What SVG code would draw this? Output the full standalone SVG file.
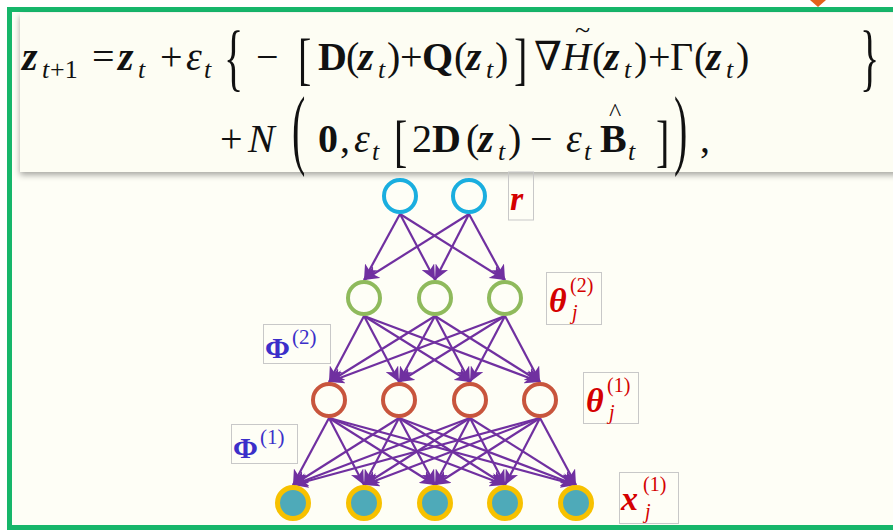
<svg xmlns="http://www.w3.org/2000/svg" width="893" height="530" viewBox="0 0 893 530">
<defs>
<filter id="sh" x="-5%" y="-10%" width="110%" height="125%"><feDropShadow dx="0" dy="3" stdDeviation="3" flood-color="#000" flood-opacity="0.35"/></filter>
<marker id="ah" markerUnits="userSpaceOnUse" markerWidth="16" markerHeight="14" refX="15" refY="7" orient="auto"><path d="M0,0 L15,7 L0,14 L4,7 z" fill="#7030a0"/></marker>
<style>
.m{font-family:"Liberation Serif","DejaVu Serif",serif;fill:#111}
.bi{font-weight:bold;font-style:italic}
.b{font-weight:bold}
.i{font-style:italic}
.s{font-size:26px}
.d{font-size:40px;font-weight:normal}
.e line{stroke:#7030a0;stroke-width:2.2;marker-end:url(#ah)}
.lb{fill:none;stroke:#c8c8c8;stroke-width:1}
.red{font-family:"Liberation Serif",serif;fill:#d40000}
.blu{font-family:"Liberation Serif",serif;fill:#3b2fc9}
</style>
</defs>
<rect width="893" height="530" fill="#ffffff"/>
<rect x="9.5" y="9.5" width="900" height="518" fill="#fefef6" stroke="#16b66a" stroke-width="5"/>
<path d="M810,0 L826,0 L818,7 z" fill="#e5611b"/>
<g id="formula">
<rect x="20" y="13" width="880" height="159" fill="#fdfdf3" filter="url(#sh)"/>
<g class="m" font-size="40">
<text x="22" y="70" class="bi">z</text><text x="42" y="78" class="i s">t</text><text x="50" y="78" class="s">+1</text>
<text x="92" y="70">=</text>
<text x="118" y="70" class="bi">z</text><text x="138" y="78" class="i s">t</text>
<text x="160" y="70">+</text>
<text x="186" y="70" class="i">ε</text><text x="204" y="78" class="i s">t</text>
<text class="d" transform="translate(224,82) scale(1,1.85)">{</text>
<text x="256" y="70">−</text>
<text class="d" transform="translate(298,78) scale(1,1.45)">[</text>
<text x="318" y="70" class="b">D</text>
<text x="346" y="70">(</text><text x="358" y="70" class="bi">z</text><text x="378" y="78" class="i s">t</text><text x="387" y="70">)</text>
<text x="400" y="70">+</text>
<text x="422" y="70" class="b">Q</text>
<text x="454" y="70">(</text><text x="466" y="70" class="bi">z</text><text x="486" y="78" class="i s">t</text><text x="495" y="70">)</text>
<text class="d" transform="translate(514,78) scale(1,1.45)">]</text>
<text x="534" y="70">∇</text>
<text x="562" y="70" class="i">H</text><text x="575" y="39" font-size="28">~</text>
<text x="592" y="70">(</text><text x="604" y="70" class="bi">z</text><text x="624" y="78" class="i s">t</text><text x="634" y="70">)</text>
<text x="648" y="70">+</text>
<text x="670" y="70">Γ</text>
<text x="694" y="70">(</text><text x="706" y="70" class="bi">z</text><text x="726" y="78" class="i s">t</text><text x="736" y="70">)</text>
<text class="d" transform="translate(860,82) scale(1,1.85)">}</text>
<text x="220" y="152">+</text>
<text x="248" y="152" class="i">N</text>
<text class="d" transform="translate(292,158) scale(1,2.2)">(</text>
<text x="318" y="152" class="b">0</text><text x="340" y="152">,</text>
<text x="354" y="152" class="i">ε</text><text x="372" y="160" class="i s">t</text>
<text class="d" transform="translate(394,160) scale(1,1.45)">[</text>
<text x="412" y="152">2</text><text x="432" y="152" class="b">D</text>
<text x="466" y="152">(</text><text x="478" y="152" class="bi">z</text><text x="498" y="160" class="i s">t</text><text x="508" y="152">)</text>
<text x="530" y="152">−</text>
<text x="566" y="152" class="i">ε</text><text x="584" y="160" class="i s">t</text>
<text x="600" y="152" class="b">B</text><text x="609" y="121" font-size="26">^</text><text x="628" y="160" class="i s">t</text>
<text class="d" transform="translate(656,160) scale(1,1.45)">]</text>
<text class="d" transform="translate(674,158) scale(1,2.2)">)</text>
<text x="700" y="152">,</text>
</g>
</g>
<g id="connectors" class="e">
<line x1="400" y1="214" x2="364" y2="280"/><line x1="400" y1="214" x2="435" y2="280"/><line x1="400" y1="214" x2="505" y2="280"/>
<line x1="469" y1="214" x2="364" y2="280"/><line x1="469" y1="214" x2="435" y2="280"/><line x1="469" y1="214" x2="505" y2="280"/>
<line x1="364" y1="316" x2="329" y2="382"/><line x1="364" y1="316" x2="399" y2="382"/><line x1="364" y1="316" x2="470" y2="382"/><line x1="364" y1="316" x2="540" y2="382"/>
<line x1="435" y1="316" x2="329" y2="382"/><line x1="435" y1="316" x2="399" y2="382"/><line x1="435" y1="316" x2="470" y2="382"/><line x1="435" y1="316" x2="540" y2="382"/>
<line x1="505" y1="316" x2="329" y2="382"/><line x1="505" y1="316" x2="399" y2="382"/><line x1="505" y1="316" x2="470" y2="382"/><line x1="505" y1="316" x2="540" y2="382"/>
<line x1="329" y1="418" x2="293" y2="485"/><line x1="329" y1="418" x2="364" y2="485"/><line x1="329" y1="418" x2="435" y2="485"/><line x1="329" y1="418" x2="505" y2="485"/><line x1="329" y1="418" x2="576" y2="485"/>
<line x1="399" y1="418" x2="293" y2="485"/><line x1="399" y1="418" x2="364" y2="485"/><line x1="399" y1="418" x2="435" y2="485"/><line x1="399" y1="418" x2="505" y2="485"/><line x1="399" y1="418" x2="576" y2="485"/>
<line x1="470" y1="418" x2="293" y2="485"/><line x1="470" y1="418" x2="364" y2="485"/><line x1="470" y1="418" x2="435" y2="485"/><line x1="470" y1="418" x2="505" y2="485"/><line x1="470" y1="418" x2="576" y2="485"/>
<line x1="540" y1="418" x2="293" y2="485"/><line x1="540" y1="418" x2="364" y2="485"/><line x1="540" y1="418" x2="435" y2="485"/><line x1="540" y1="418" x2="505" y2="485"/><line x1="540" y1="418" x2="576" y2="485"/>
</g>
<g id="r-nodes" fill="none" stroke="#1aaedf" stroke-width="4">
<circle id="r1" cx="400" cy="196" r="16"/><circle id="r2" cx="469" cy="196" r="16"/>
</g>
<g id="theta2-nodes" fill="none" stroke="#8fba5c" stroke-width="4">
<circle id="t2a" cx="364" cy="298" r="16"/><circle id="t2b" cx="435" cy="298" r="16"/><circle id="t2c" cx="505" cy="298" r="16"/>
</g>
<g id="theta1-nodes" fill="none" stroke="#c8553d" stroke-width="4">
<circle id="t1a" cx="329" cy="400" r="16"/><circle id="t1b" cx="399" cy="400" r="16"/><circle id="t1c" cx="470" cy="400" r="16"/><circle id="t1d" cx="540" cy="400" r="16"/>
</g>
<g id="x-nodes" fill="#4eaab9" stroke="#f7c100" stroke-width="5">
<circle id="xa" cx="293" cy="503" r="15.5"/><circle id="xb" cx="364" cy="503" r="15.5"/><circle id="xc" cx="435" cy="503" r="15.5"/><circle id="xd" cx="505" cy="503" r="15.5"/><circle id="xe" cx="576" cy="503" r="15.5"/>
</g>
<g id="label-r"><rect class="lb" x="508.5" y="172" width="25" height="48"/><text class="red" x="510" y="210" font-size="34" font-weight="bold" font-style="italic">r</text></g>
<g id="label-theta2"><rect class="lb" x="546.5" y="272.5" width="55" height="52"/><text class="red" x="549" y="312" font-size="34" font-weight="bold" font-style="italic">θ</text><text class="red" x="570" y="292" font-size="20">(2)</text><text class="red" x="572" y="319" font-size="20" font-style="italic">j</text></g>
<g id="label-theta1"><rect class="lb" x="583.5" y="372.5" width="55" height="51"/><text class="red" x="586" y="412" font-size="34" font-weight="bold" font-style="italic">θ</text><text class="red" x="607" y="392" font-size="20">(1)</text><text class="red" x="609" y="419" font-size="20" font-style="italic">j</text></g>
<g id="label-x"><rect class="lb" x="619.5" y="472.5" width="59" height="51"/><text class="red" x="621" y="510" font-size="34" font-weight="bold" font-style="italic">x</text><text class="red" x="643" y="491" font-size="20">(1)</text><text class="red" x="645" y="518" font-size="20" font-style="italic">j</text></g>
<g id="label-phi2"><rect class="lb" x="263.5" y="324.5" width="67" height="39"/><text class="blu" x="265" y="358" font-size="30" font-weight="bold">Φ</text><text class="blu" x="292" y="344" font-size="21">(2)</text></g>
<g id="label-phi1"><rect class="lb" x="231.5" y="424.5" width="66" height="39"/><text class="blu" x="233" y="458" font-size="30" font-weight="bold">Φ</text><text class="blu" x="260" y="444" font-size="21">(1)</text></g>
</svg>
